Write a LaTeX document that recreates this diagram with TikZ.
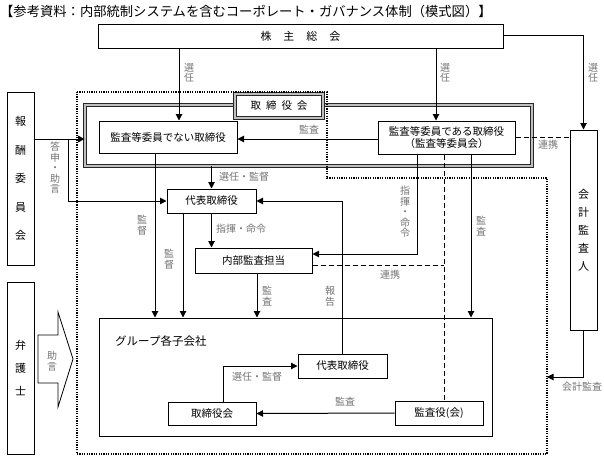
\documentclass[tikz,border=0pt]{standalone}
\usepackage{fontspec}
\setmainfont{Noto Sans CJK JP}
\usetikzlibrary{arrows.meta, positioning, calc}

\begin{document}
\begin{tikzpicture}[
    x=1pt, y=-1pt,
    every node/.style={inner sep=0pt},
    box/.style={draw, line width=1pt, align=center, font=\fontsize{10.5}{12}\selectfont},
    vbox/.style={box, minimum width=27pt, font=\fontsize{11}{#1}\selectfont},
    frame/.style={draw=black!85, line width=0.8pt, double=black!25, double distance=1.6pt},
    lbl/.style={text=black!55, align=center, font=\fontsize{10}{10.5}\selectfont},
    arrow/.style={-{Triangle[length=6.5pt, width=6.5pt]}, line width=1pt},
    link/.style={dash pattern=on 5pt off 3pt, line width=1pt},
    zone/.style={dash pattern=on 1.2pt off 1.2pt, line width=1.4pt}
]
    \useasboundingbox (0,0) rectangle (604,458);

    % Nodes
    \node (title) [anchor=west, font=\fontsize{13.3}{14}\selectfont] at (0,11) {【参考資料：内部統制システムを含むコーポレート・ガバナンス体制（模式図）】};
    \node (gms) [box, minimum width=405pt, minimum height=24pt, font=\fontsize{11}{12}\selectfont] at (300.5,36) {株\hspace{12pt}主\hspace{12pt}総\hspace{12pt}会};
    \node (board) [frame, minimum width=447pt, minimum height=61pt] at (308.5,135.5) {};
    \node (boardlbl) [frame, fill=white, minimum width=88pt, minimum height=24pt, font=\fontsize{10.5}{12}\selectfont] at (279,106) {取\hspace{5pt}締\hspace{5pt}役\hspace{5pt}会};

    \draw [zone] (77,92) -- (327,92) -- (327,178) -- (547,178) -- (547,454) -- (77,454) -- cycle;
    \coordinate (zoneR) at (547,377);
    \coordinate (fork) at (68,139);

    \node (nondir) [box, minimum width=138pt, minimum height=32pt] at (168,137) {監査等委員でない取締役};
    \node (acdir) [box, minimum width=137pt, minimum height=33pt] at (446.5,137.5) {監査等委員である取締役\\（監査等委員会）};
    \node (rep) [box, minimum width=89pt, minimum height=24pt] at (211.5,201) {代表取締役};
    \node (audit) [box, minimum width=117pt, minimum height=25pt] at (253.5,260.5) {内部監査担当};
    \node (comp) [vbox=28.5, minimum height=173pt] at (20.5,178.5) {報\\酬\\委\\員\\会};
    \node (lawyer) [vbox=23, minimum height=172pt] at (20.5,368) {弁\\護\\士};
    \node (cpa) [vbox=18, minimum height=200pt] at (583.5,230) {会\\計\\監\\査\\人};
    \node (group) [box, minimum width=393pt, minimum height=118pt] at (295.5,377) {};
    \node (grouplbl) [anchor=west, font=\fontsize{11.5}{13}\selectfont] at (115,341) {グループ各子会社};
    \node (grep) [box, minimum width=89pt, minimum height=24pt] at (342.5,366) {代表取締役};
    \node (gboard) [box, minimum width=88pt, minimum height=23pt] at (212,413.5) {取締役会};
    \node (gaudit) [box, minimum width=88pt, minimum height=24pt] at (439,413) {監査役(会)};

    % advice arrow
    \draw [line width=0.8pt, fill=white] (38,335) -- (58,335) -- (58,312) -- (73,359) -- (58,407) -- (58,383) -- (38,383) -- cycle;
    \node (advB) [lbl] at (52,361) {助\\言};

    % Edges
    \draw [arrow] ($(nondir.north |- gms.south)+(11,0)$) -- ($(nondir.north)+(11,0)$);
    \draw [arrow] ($(acdir.north |- gms.south)+(-10.5,0)$) -- ($(acdir.north)+(-10.5,0)$);
    \draw [arrow] ([yshift=1pt]gms.east) -| (cpa.north);
    \draw [arrow] (comp.east |- fork) -- (board.west |- fork);
    \draw [arrow] (fork) |- (rep.west);
    \draw [arrow] (rep.north |- board.south) -- (rep.north);
    \draw [arrow] (acdir.west |- fork) -- (nondir.east |- fork);
    \draw [link] (acdir.east) -- (acdir.east -| cpa.west);
    \draw [arrow] (rep.south) -- (rep.south |- audit.north);
    \draw [arrow] (grep.north) |- (rep.east);
    \draw [arrow] ($(nondir.south)+(-13,0)$) -- ($(nondir.south |- group.north)+(-13,0)$);
    \draw [arrow] ($(rep.south)+(-28.5,0)$) -- ($(rep.south |- group.north)+(-28.5,0)$);
    \draw [arrow] ($(audit.south)+(3.5,0)$) -- ($(audit.south |- group.north)+(3.5,0)$);
    \draw [arrow] ($(acdir.south)+(-29.5,0)$) |- ($(audit.east)+(0,-6.5)$);
    \draw [arrow] ($(acdir.south)+(24.5,0)$) -- ($(acdir.south |- group.north)+(24.5,0)$);
    \draw [link] ($(acdir.south)+(-2.5,0)$) -- ($(gaudit.north)+(5,0)$);
    \draw [link] ($(audit.east)+(0,4.5)$) -- ($(audit.east -| gaudit.north)+(5,4.5)$);
    \draw [arrow] ($(gboard.north)+(11,0)$) |- (grep.west);
    \draw [arrow] (gaudit.west) -- (gboard.east);
    \draw [arrow] (cpa.south) |- (zoneR);

    % Labels
    \node (selA) [lbl] at (189,73) {選\\任};
    \node (selB) [lbl] at (445,73) {選\\任};
    \node (selC) [lbl] at (593,73) {選\\任};
    \node (advA) [lbl] at (55,168) {答\\申\\・\\助\\言};
    \node (audA) [lbl] at (309,130) {監査};
    \node (linkA) [lbl] at (548,145) {連携};
    \node (selD) [lbl] at (244,177) {選任・監督};
    \node (cmdA) [lbl] at (241,229) {指揮・命令};
    \node (supA) [lbl] at (142,225) {監\\督};
    \node (supB) [lbl] at (169,259) {監\\督};
    \node (cmdB) [lbl] at (405,212) {指\\揮\\・\\命\\令};
    \node (audB) [lbl] at (481,226) {監\\査};
    \node (audC) [lbl] at (267,296) {監\\査};
    \node (rptA) [lbl] at (330,296) {報\\告};
    \node (linkB) [lbl] at (390,275) {連携};
    \node (selE) [lbl] at (257,377) {選任・監督};
    \node (audD) [lbl] at (345,402) {監査};
    \node (cpaA) [lbl] at (582,387) {会計監査};
\end{tikzpicture}
\end{document}
